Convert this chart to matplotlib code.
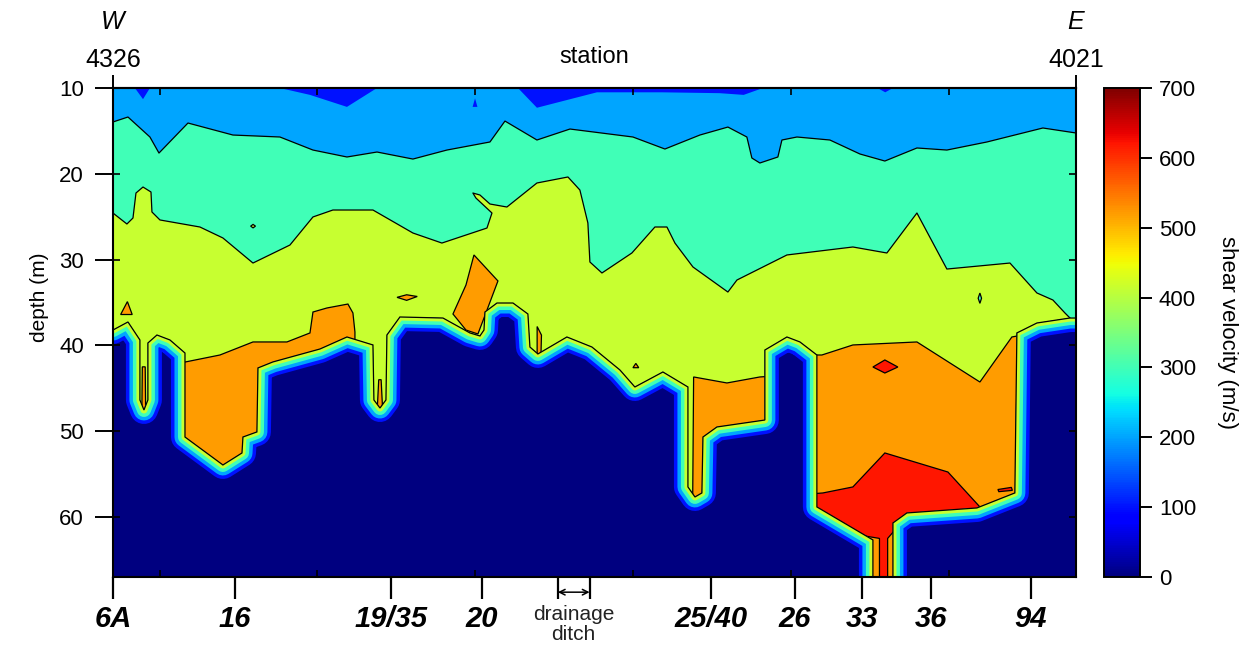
"""Shear-velocity cross-section along the W-E line (station 4326 -> 4021)."""
import matplotlib
matplotlib.use("Agg")
import matplotlib.pyplot as plt
from matplotlib.patches import Polygon
from matplotlib.colors import Normalize
from matplotlib.cm import ScalarMappable
from matplotlib.transforms import blended_transform_factory

plt.rcParams["font.family"] = ["Liberation Sans", "DejaVu Sans"]

# ---- profile annotation (x = position along the line, 0 = W end, 100 = E end)
STATIONS = ["6A", "16", "19/35", "20", "25/40", "26", "33", "36", "94"]
STATION_X = [0.0, 12.7, 28.9, 38.3, 62.1, 70.8, 77.8, 85.0, 95.3]
DITCH_X = [46.2, 49.5]
MINOR_X = [4.9, 21.2, 37.6, 54.0, 70.4, 86.8]
END_LABELS = ["4326", "4021"]
END_DIRS = ["W", "E"]
DEPTH_TICKS = [10, 20, 30, 40, 50, 60]

# ---- velocity of each unit (m/s), read against the colour bar
V_POCKET, V_SURF, V_UPPER, V_MIDDLE, V_FAST, V_FASTEST, V_NODATA = 100, 200, 300, 415, 520, 620, 0
RIM_STEPS = [100, 200, 300, V_MIDDLE]

# base of the 200 m/s surface layer
TOP_X = [0, 1.56, 3.84, 4.78, 7.79, 12.46, 17.34, 20.77, 24.30, 27.42, 31.15, 34.68,
         39.15, 40.71, 44.03, 47.46, 54.00, 57.32, 60.95, 63.86, 65.83, 66.35, 67.18,
         69.05, 69.47, 71.03, 74.45, 77.57, 80.16, 83.49, 86.60, 90.76, 96.57, 100]
TOP_Z = [13.96, 13.38, 15.71, 17.58, 14.08, 15.48, 15.71, 17.23, 18.04, 17.46, 18.28, 17.23,
         16.29, 13.85, 16.06, 14.78, 15.71, 17.11, 15.48, 14.55, 15.71, 18.16, 18.74,
         18.04, 16.06, 15.71, 16.06, 17.69, 18.51, 16.99, 17.23, 16.29, 14.66, 15.24]

# base of the 300 m/s layer
MID_X = [0, 1.45, 2.08, 2.39, 3.12, 3.95, 4.05, 4.88, 9.03, 11.42, 14.54, 18.38, 20.77,
         22.84, 27.00, 31.15, 34.16, 38.84, 39.36, 37.69, 37.38, 38.11, 39.15, 40.91,
         44.03, 47.25, 48.49, 49.32, 49.53, 50.78, 53.89, 56.28, 57.53, 58.36, 60.23,
         63.86, 64.80, 69.99, 76.84, 80.37, 83.49, 86.60, 93.15, 95.95, 97.61, 98.86, 100]
MID_Z = [24.57, 25.85, 25.15, 22.24, 21.54, 22.12, 24.45, 25.38, 26.20, 27.48, 30.40, 28.30,
         25.03, 24.22, 24.22, 26.90, 28.07, 26.32, 24.57, 22.82, 22.24, 22.47, 23.52, 23.87,
         21.07, 20.37, 21.89, 25.73, 30.28, 31.56, 29.23, 26.20, 26.20, 28.07, 30.86,
         33.78, 32.38, 29.46, 28.53, 29.23, 24.57, 31.10, 30.40, 33.89, 34.71, 36.22, 37.5]

# zone without resolved velocity (0 m/s), west and east of the station-33 column
NODATA_W = [(-2, 70), (-2, 38.21), (0, 38.21), (1.56, 37.27), (2.80, 39.37), (2.80, 46.36),
            (3.22, 47.53), (3.63, 46.36), (3.63, 39.72), (4.57, 38.79), (5.92, 39.37),
            (7.48, 40.89), (7.48, 50.68), (11.42, 53.94), (13.40, 52.54), (13.50, 50.68),
            (14.95, 50.09), (15.06, 42.63), (16.61, 41.93), (21.50, 40.42), (24.30, 39.02),
            (27.00, 39.95), (27.10, 46.36), (27.73, 47.30), (28.35, 46.36), (28.45, 38.79),
            (29.80, 36.69), (34.27, 36.81), (37.07, 38.55), (38.11, 38.90), (38.53, 38.21),
            (38.63, 36.11), (39.88, 35.06), (41.54, 35.06), (43.09, 36.34), (43.30, 40.19),
            (44.13, 41.00), (47.14, 39.02), (49.74, 40.19), (52.65, 42.87), (54.20, 44.85),
            (57.11, 43.10), (59.71, 44.85), (59.71, 56.50), (60.44, 57.67), (61.16, 57.20),
            (61.27, 50.68), (62.72, 49.51), (67.70, 48.70), (67.70, 40.54), (69.99, 39.02),
            (71.34, 39.60), (73.10, 41.12), (73.10, 58.83), (78.92, 62.68), (78.92, 70)]
NODATA_E = [(81.00, 70), (81.00, 60.70), (82.45, 59.53), (89.72, 58.95), (93.66, 57.20),
            (93.87, 38.55), (95.95, 37.39), (99.38, 36.81), (102, 36.81), (102, 70)]

# 500 m/s bodies
FAST_BODIES = [
    [(7.0, 42.05), (11.11, 41.12), (14.54, 39.6), (18.07, 39.6), (20.46, 38.55), (20.77, 36.11),
     (22.22, 35.64), (24.4, 35.18), (24.92, 36.22), (25.13, 38.44), (25.13, 40.5), (21.5, 41.5),
     (16.6, 43.0), (15.7, 43.5), (15.7, 51.5), (13.5, 53.5), (11.4, 55.0), (7.0, 52.0)],
    [(27.6, 44.0), (27.85, 44.0), (28.05, 48.5), (27.4, 48.5)],
    [(3.05, 42.5), (3.35, 42.5), (3.4, 48.0), (3.0, 48.0)],
    [(37.49, 29.46), (39.98, 32.49), (38.53, 36.81), (37.90, 38.67), (36.66, 38.21),
     (35.31, 36.34), (36.66, 32.96)],
    [(44.05, 37.8), (44.5, 38.8), (44.45, 41.0), (44.05, 41.0)],
    [(29.5, 34.4), (30.5, 34.1), (31.6, 34.3), (30.5, 34.75)],
    [(0.8, 36.4), (1.5, 34.9), (2.0, 36.4)],
    [(54.0, 42.6), (54.3, 42.1), (54.6, 42.6)],
    [(60.3, 43.68), (63.76, 44.38), (67.18, 43.68), (68.3, 43.6), (68.3, 50.5), (61.8, 50.5),
     (61.8, 58.5), (60.2, 58.5)],
    [(72.6, 41.12), (73.62, 41.12), (76.84, 39.95), (83.49, 39.6), (90.03, 44.27), (93.35, 39.02),
     (94.4, 38.8), (94.4, 60.0), (82.0, 61.0), (81.5, 70.0), (78.4, 70.0), (72.6, 59.5)],
]
# 600 m/s bodies
FASTEST_BODIES = [
    [(72.6, 57.3), (73.73, 57.2), (76.84, 56.5), (80.16, 52.54), (86.71, 54.76), (90.03, 58.83),
     (90.03, 60.5), (81.6, 61.0), (80.45, 62.5), (80.45, 70.0), (79.6, 70.0), (79.6, 62.5),
     (78.0, 62.2), (72.6, 59.0)],
    [(78.92, 42.52), (80.16, 41.70), (81.51, 42.52), (80.16, 43.22)],
    [(91.9, 56.8), (93.3, 56.55), (93.4, 56.9), (92.0, 57.05)],
]
# 100 m/s pockets just below the surface
POCKETS = [
    [(2.28, 10), (3.84, 10), (3.12, 11.3)],
    [(17.34, 10), (20.46, 10.8), (24.30, 12.2), (27.42, 10)],
    [(42.06, 10), (44.03, 12.3), (47.14, 11.4), (50.26, 10.5), (57.0, 10.5), (63.0, 10.6),
     (65.5, 10.8), (67.5, 10)],
    [(79.4, 10), (80.2, 10.5), (81.0, 10)],
    [(37.35, 12.2), (37.6, 11.2), (37.85, 12.2)],
]
SMALL_UPPER = [[(89.85, 34.5), (90.03, 33.9), (90.2, 34.5), (90.03, 35.1)]]
SMALL_MIDDLE = [[(14.3, 26.1), (14.55, 25.9), (14.8, 26.1), (14.55, 26.3)]]

norm = Normalize(0, 700)
cmap = plt.get_cmap("jet")


def col(v):
    return cmap(norm(v))


LW = 0.9
BOT = 70
RIM = 3.5 * 72 / 100  # width of one colour step along the no-data edge, points

fig = plt.figure(figsize=(12.55, 6.52), dpi=100)
ax = fig.add_axes([0.0900, 0.1150, 0.7673, 0.7500])
ax.set_facecolor(col(V_SURF))

for xs, zs, v in [(TOP_X, TOP_Z, V_UPPER), (MID_X, MID_Z, V_MIDDLE)]:
    ax.fill(list(xs) + [xs[-1], xs[0]], list(zs) + [BOT, BOT], color=col(v), lw=0, zorder=1)
    ax.plot(xs, zs, color="k", lw=LW, zorder=2)

for verts in POCKETS:
    ax.add_patch(Polygon(verts, closed=True, facecolor=col(V_POCKET), edgecolor="none", zorder=3))
for group, v, z in [(SMALL_UPPER, V_UPPER, 3), (SMALL_MIDDLE, V_MIDDLE, 3),
                    (FAST_BODIES, V_FAST, 3), (FASTEST_BODIES, V_FASTEST, 4)]:
    for verts in group:
        ax.add_patch(Polygon(verts, closed=True, facecolor=col(v), edgecolor="k",
                             lw=LW, zorder=z))

for verts in [NODATA_W, NODATA_E]:
    base = Polygon(verts, closed=True, facecolor=col(V_NODATA), edgecolor="none", zorder=5)
    ax.add_patch(base)
    # colour ramp from the surrounding ~400 m/s down to 0 along the edge
    for k, v in zip([4, 3, 2, 1], RIM_STEPS):
        ring = Polygon(verts, closed=True, fill=False, edgecolor=col(v), lw=2 * k * RIM,
                       joinstyle="round", zorder=6)
        ax.add_patch(ring)
        ring.set_clip_path(base)
        ring.set_clip_box(ax.bbox)
    ax.add_patch(Polygon(verts, closed=True, fill=False, edgecolor="k", lw=LW, zorder=7))

ax.set_xlim(0, 100)
ax.set_ylim(67, 10)
for s in ax.spines.values():
    s.set_linewidth(1.5)
    s.set_zorder(10)
ax.xaxis.set_zorder(11)
ax.yaxis.set_zorder(11)

# depth axis
ax.set_yticks(DEPTH_TICKS)
ax.set_yticks(DEPTH_TICKS, minor=True)
ax.yaxis.remove_overlapping_locs = False
ax.tick_params(axis="y", which="major", direction="out", length=13, width=1.4,
               labelsize=16, pad=8)
ax.tick_params(axis="y", which="minor", direction="in", length=5, width=1.2,
               left=True, right=True)
ax.set_ylabel("depth (m)", fontsize=15)
ax.yaxis.set_label_coords(-0.066, 0.573)

# station axis
ax.set_xticks(STATION_X + DITCH_X)
ax.set_xticklabels(STATIONS + ["", ""], fontsize=21, fontweight="bold", fontstyle="italic")
ax.set_xticks(MINOR_X, minor=True)
ax.tick_params(axis="x", which="major", direction="out", length=16, width=1.6, pad=4)
ax.tick_params(axis="x", which="minor", direction="in", length=5, width=1.2,
               bottom=True, top=True)

top = ax.secondary_xaxis("top")
top.set_xticks([0, 100])
top.set_xticklabels(END_LABELS, fontsize=18)
top.tick_params(direction="out", length=9.5, width=1.4, pad=2)
top.spines["top"].set_linewidth(1.5)

bt = blended_transform_factory(ax.transData, ax.transAxes)
for x, d in zip([0, 100], END_DIRS):
    ax.text(x, 1.135, d, transform=bt, ha="center", va="center", fontsize=18,
            fontstyle="italic")
ax.text(50, 1.063, "station", transform=bt, ha="center", va="center", fontsize=17)

ax.annotate("", xy=(DITCH_X[1], -0.031), xytext=(DITCH_X[0], -0.031), xycoords=bt,
            textcoords=bt, annotation_clip=False,
            arrowprops=dict(arrowstyle="<->", lw=1.1, color="k", shrinkA=0, shrinkB=0,
                            mutation_scale=10))
ax.text(sum(DITCH_X) / 2, -0.058, "drainage\nditch", transform=bt, ha="center", va="top",
        fontsize=15, linespacing=1.05, color="#222222")

cax = fig.add_axes([0.8797, 0.1150, 0.0287, 0.7500])
cb = fig.colorbar(ScalarMappable(norm=norm, cmap=cmap), cax=cax,
                  ticks=range(0, 701, 100))
cb.outline.set_linewidth(1.4)
cax.tick_params(labelsize=16, length=8.5, width=1.4, pad=5)
cb.set_label("shear velocity (m/s)", rotation=270, fontsize=16, labelpad=30)

fig.savefig("out.png", dpi=100, facecolor="white")
